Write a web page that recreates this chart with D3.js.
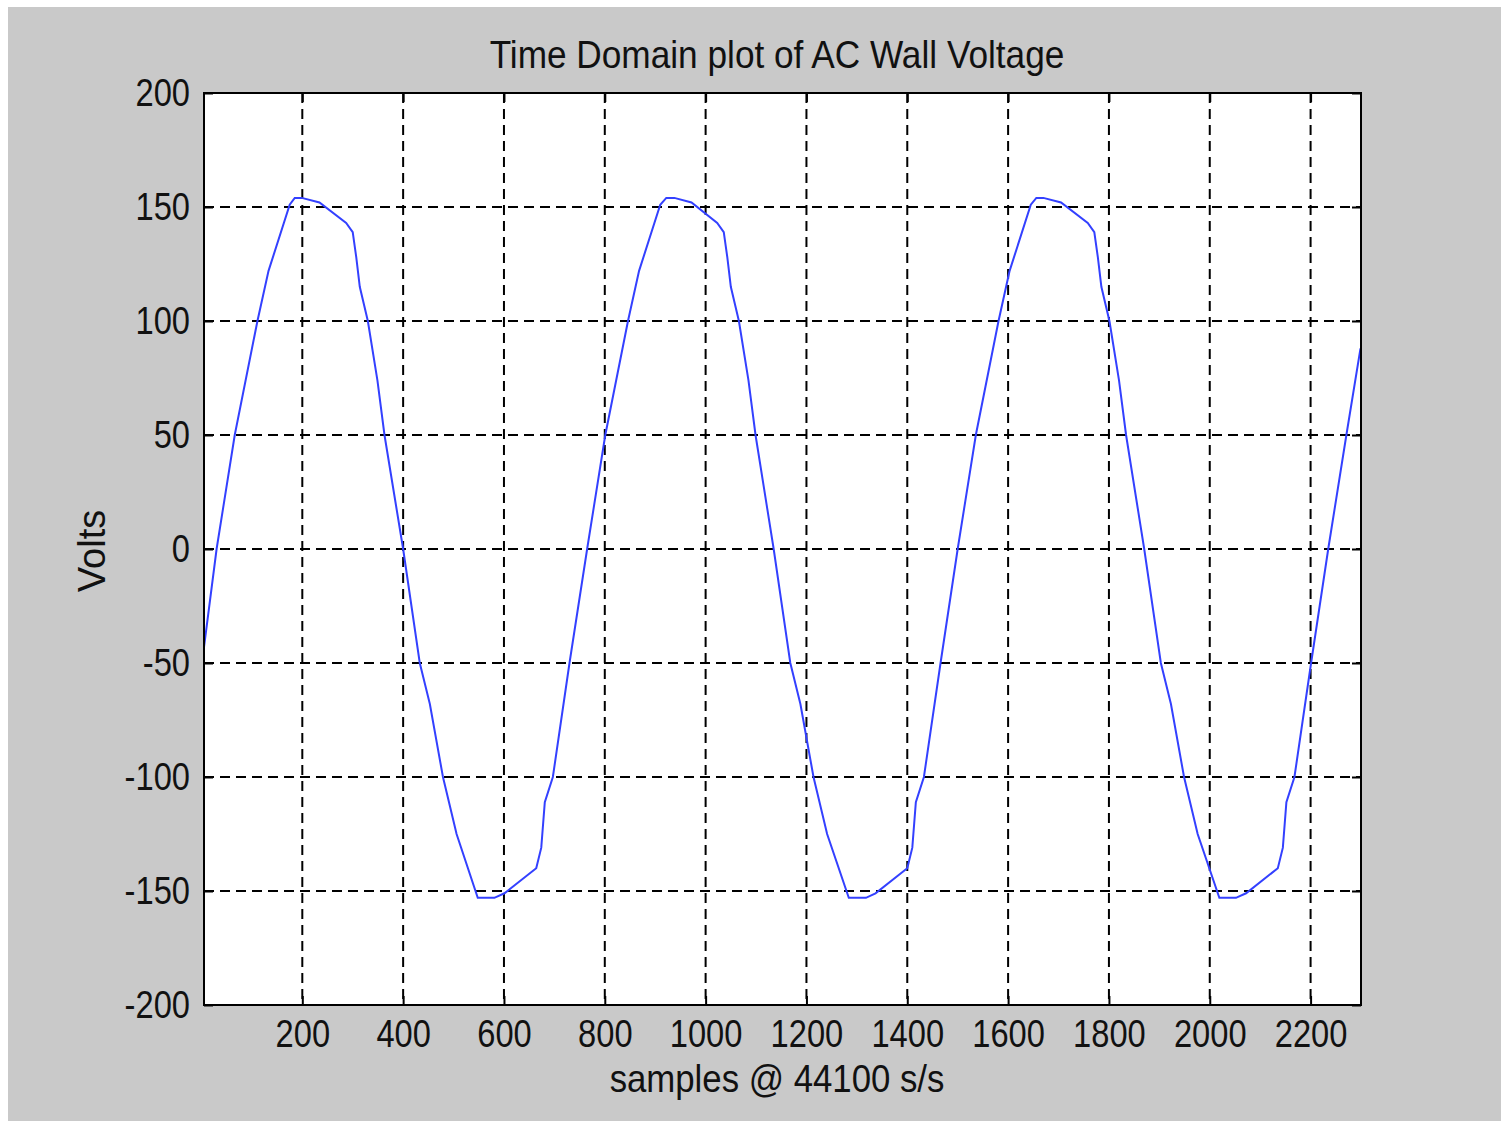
<!DOCTYPE html>
<html>
<head>
<meta charset="utf-8">
<script src="https://cdn.jsdelivr.net/npm/d3@7/dist/d3.min.js"></script>
<style>
  body { margin: 0; background: #fff; }
  text { font-family: 'Liberation Sans', Arial, sans-serif; fill: #111; }
</style>
</head>
<body>
<svg id="chart" width="1507" height="1123"></svg>
<script>
var samples = [
  5, 30, 66, 111, 133, 175, 185, 199, 234, 287, 300, 307, 314, 330, 349, 363,
  400, 433, 453, 479, 506, 548, 581, 601, 664, 674, 681, 697, 730,
  765, 801, 846, 868, 910, 922, 938, 972, 1023, 1036, 1043, 1050, 1066, 1085, 1099,
  1135, 1168, 1188, 1214, 1241, 1284, 1318, 1337, 1400, 1410, 1417, 1433, 1466,
  1500, 1536, 1581, 1603, 1645, 1656, 1670, 1705, 1758, 1771, 1778, 1785, 1801, 1820, 1834,
  1870, 1903, 1923, 1949, 1976, 2019, 2052, 2072, 2135, 2145, 2152, 2168, 2201,
  2235, 2271, 2299
];
var volts = [
  -43, 0, 50, 100, 122, 151, 154, 154, 152, 143, 139, 128, 115, 100, 74, 50,
  0, -50, -68, -100, -125, -153, -153, -151, -140, -131, -111, -100, -50,
  0, 50, 100, 122, 151, 154, 154, 152, 143, 139, 128, 115, 100, 74, 50,
  0, -50, -68, -100, -125, -153, -153, -151, -140, -131, -111, -100, -50,
  0, 50, 100, 122, 151, 154, 154, 152, 143, 139, 128, 115, 100, 74, 50,
  0, -50, -68, -100, -125, -153, -153, -151, -140, -131, -111, -100, -50,
  0, 50, 88
];
var xTicks = [200, 400, 600, 800, 1000, 1200, 1400, 1600, 1800, 2000, 2200];
var yTicks = [-200, -150, -100, -50, 0, 50, 100, 150, 200];

var data = samples.map(function(s, i) { return {x: s, y: volts[i]}; });

var svg = d3.select('#chart');
svg.append('rect')
  .attr('x', 8).attr('y', 7).attr('width', 1493).attr('height', 1114)
  .attr('fill', '#c9c9c9');

var margin = {top: 93, left: 204};
var width = 1157, height = 912;
var g = svg.append('g').attr('transform', 'translate(' + margin.left + ',' + margin.top + ')');

var x = d3.scaleLinear().domain([5, 2300]).range([0, width]);
var y = d3.scaleLinear().domain([-200, 200]).range([height, 0]);

g.append('rect').attr('width', width).attr('height', height).attr('fill', '#fff');

// dashed grid
g.selectAll('.vgrid').data(xTicks).enter().append('line')
  .attr('x1', function(d) { return x(d); }).attr('x2', function(d) { return x(d); })
  .attr('y1', 0).attr('y2', height)
  .attr('stroke', '#000').attr('stroke-width', 2).attr('stroke-dasharray', '10,6');
g.selectAll('.hgrid').data(yTicks.slice(1, -1)).enter().append('line')
  .attr('y1', function(d) { return y(d); }).attr('y2', function(d) { return y(d); })
  .attr('x1', 0).attr('x2', width)
  .attr('stroke', '#000').attr('stroke-width', 2).attr('stroke-dasharray', '10,6');

// the signal
var line = d3.line().x(function(d) { return x(d.x); }).y(function(d) { return y(d.y); });
g.append('path').datum(data)
  .attr('fill', 'none').attr('stroke', '#3340ff').attr('stroke-width', 2)
  .attr('d', line);

// axes, ticks pointing inward on all four sides
var plain = function(d) { return String(d); };
function styleAxis(sel) {
  sel.select('.domain').remove();
  sel.selectAll('.tick line').attr('stroke', '#000').attr('stroke-width', 2);
  sel.selectAll('.tick text').style('font-size', '38px').attr('fill', '#111');
}
g.append('g').attr('transform', 'translate(0,' + height + ')')
  .call(d3.axisBottom(x).tickValues(xTicks).tickSize(-9).tickPadding(15).tickFormat(plain))
  .call(styleAxis)
  .selectAll('.tick text').attr('transform', 'scale(0.86,1)');
g.append('g')
  .call(d3.axisTop(x).tickValues(xTicks).tickSize(-9).tickFormat(''))
  .call(styleAxis);
g.append('g')
  .call(d3.axisLeft(y).tickValues(yTicks).tickSize(-9).tickFormat(plain))
  .call(styleAxis)
  .selectAll('.tick text').attr('x', 0).attr('transform', 'translate(-14,0) scale(0.86,1)');
g.append('g').attr('transform', 'translate(' + width + ',0)')
  .call(d3.axisRight(y).tickValues(yTicks).tickSize(-9).tickFormat(''))
  .call(styleAxis);

g.append('rect').attr('width', width).attr('height', height)
  .attr('fill', 'none').attr('stroke', '#000').attr('stroke-width', 2);

// titles
svg.append('text').attr('transform', 'translate(777,68) scale(0.927,1)').attr('text-anchor', 'middle')
  .style('font-size', '38px').text('Time Domain plot of AC Wall Voltage');
svg.append('text').attr('transform', 'translate(777,1092) scale(0.915,1)').attr('text-anchor', 'middle')
  .style('font-size', '38px').text('samples @ 44100 s/s');
svg.append('text').attr('transform', 'translate(105,551) rotate(-90)')
  .attr('text-anchor', 'middle').style('font-size', '38px').text('Volts');
</script>
</body>
</html>
